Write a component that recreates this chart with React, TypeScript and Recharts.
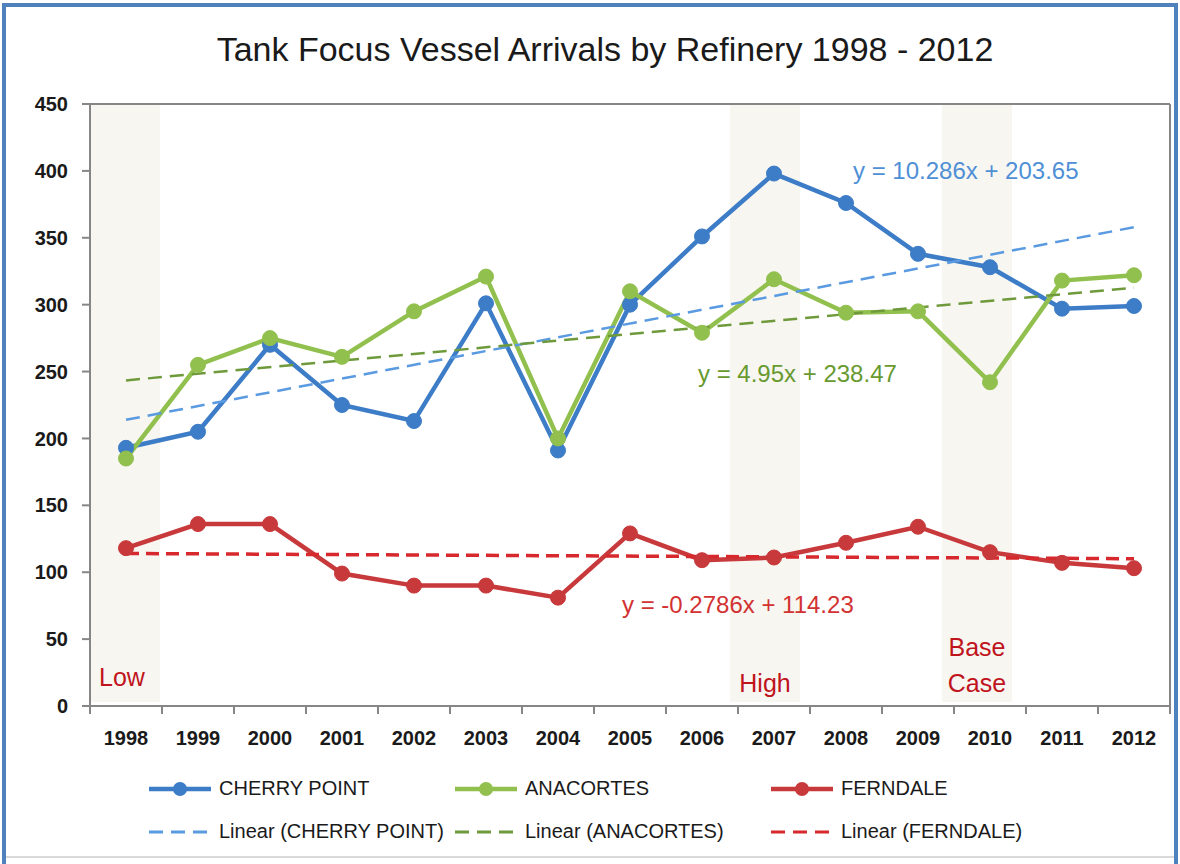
import React from 'react';
import { LineChart, Line, XAxis, YAxis, ReferenceArea, ReferenceLine } from 'recharts';

const years = ['1998', '1999', '2000', '2001', '2002', '2003', '2004', '2005', '2006', '2007', '2008', '2009', '2010', '2011', '2012'];
const cherryPoint = [193, 205, 270, 225, 213, 301, 191, 300, 351, 398, 376, 338, 328, 297, 299];
const anacortes = [185, 255, 275, 261, 295, 321, 200, 310, 279, 319, 294, 295, 242, 318, 322];
const ferndale = [118, 136, 136, 99, 90, 90, 81, 129, 109, 111, 122, 134, 115, 107, 103];

// trend line values at 1998 and 2012
const cherryTrend = [213.9, 357.9];
const anacortesTrend = [243.4, 312.7];
const ferndaleTrend = [114.0, 110.1];

const yTicks = [0, 50, 100, 150, 200, 250, 300, 350, 400, 450];
const scenarioYears = ['1998', '2007', '2010'];
const scenarioLabels = [['Low'], ['High'], ['Base', 'Case']];

const FONT = '"Liberation Sans", Arial, sans-serif';
const BAND = 72;
const AXIS = '#868686';
const PLOT_LEFT = 91;

const C_BLUE = '#3D7CC6';
const C_GREEN = '#92C04E';
const C_RED = '#C8393B';

const last = years.length - 1;
const rows = years.map((year, i) => ({
  year,
  cherry: cherryPoint[i],
  anacortes: anacortes[i],
  ferndale: ferndale[i],
  cherryTrend: i === 0 ? cherryTrend[0] : i === last ? cherryTrend[1] : null,
  anacortesTrend: i === 0 ? anacortesTrend[0] : i === last ? anacortesTrend[1] : null,
  ferndaleTrend: i === 0 ? ferndaleTrend[0] : i === last ? ferndaleTrend[1] : null,
}));

const XTick = (props: any) => {
  const { x, y, payload, index } = props;
  return (
    <g>
      <line x1={x - BAND / 2} y1={y} x2={x - BAND / 2} y2={y + 8} stroke={AXIS} strokeWidth={2} />
      {index === last && <line x1={x + BAND / 2} y1={y} x2={x + BAND / 2} y2={y + 8} stroke={AXIS} strokeWidth={2} />}
      <text x={x} y={y + 39} textAnchor="middle" fontFamily={FONT} fontWeight="bold" fontSize={20} fill="#1a1a1a">
        {payload.value}
      </text>
    </g>
  );
};

// shaded column drawn slightly left of the category centre, as in the original
const bandShape = (shift: number) => (props: any) => {
  const { x, y, width, height } = props;
  const left = Math.max(x + shift, PLOT_LEFT);
  const right = x + shift + width - 2;
  return <rect x={left} y={y} width={right - left} height={height} fill="#F7F6F1" />;
};

const scenarioLabel = (lines: string[], shift: number, lift: number) => (props: any) => {
  const { viewBox } = props;
  const cx = viewBox.x + viewBox.width / 2 + shift;
  const bottom = viewBox.y + viewBox.height;
  return (
    <text textAnchor="middle" fontFamily={FONT} fontSize={25} fill="#C0141C">
      {lines.map((t, i) => (
        <tspan key={t} x={cx} y={bottom - lift - (lines.length - 1 - i) * 36}>{t}</tspan>
      ))}
    </text>
  );
};

const bandShift = [0, -8, -12];
const labelShift = [-4, -9, -13];
const labelLift = [16, 10, 10];

const LegendItem = ({ color, dashed, label, width }: { color: string; dashed?: boolean; label: string; width: number }) => (
  <div style={{ display: 'flex', alignItems: 'center', width }}>
    <svg width={68} height={20} style={{ marginRight: 4 }}>
      {dashed ? (
        <line x1={2} y1={10} x2={64} y2={10} stroke={color} strokeWidth={3} strokeDasharray="14 8" />
      ) : (
        <g>
          <line x1={2} y1={10} x2={64} y2={10} stroke={color} strokeWidth={4.5} />
          <circle cx={33} cy={10} r={7} fill={color} />
        </g>
      )}
    </svg>
    <span style={{ fontFamily: FONT, fontSize: 20, color: '#1a1a1a', whiteSpace: 'nowrap' }}>{label}</span>
  </div>
);

export default function App() {
  return (
    <div style={{ position: 'absolute', top: 0, left: 0, width: 1180, height: 864, background: '#fff', overflow: 'hidden' }}>
      <div style={{ position: 'absolute', top: 3, left: 2, width: 1176, height: 900, border: '4px solid #4F81BD', boxSizing: 'border-box' }} />
      <div style={{ position: 'absolute', top: 856, left: 6, width: 1168, height: 2, background: '#D9D9D9' }} />
      <div style={{ position: 'absolute', top: 30, left: 0, width: 1210, textAlign: 'center', fontFamily: FONT, fontSize: 34, color: '#1a1a1a' }}>
        Tank Focus Vessel Arrivals by Refinery 1998 - 2012
      </div>

      <LineChart width={1180} height={864} data={rows} margin={{ top: 104, right: 10, bottom: 108, left: 30 }} style={{ position: 'absolute', top: 0, left: 0 }}>
        {scenarioYears.map((yr, i) => (
          <ReferenceArea key={yr} x1={yr} x2={yr} y1={3} y2={450} shape={bandShape(bandShift[i])} label={scenarioLabel(scenarioLabels[i], labelShift[i], labelLift[i])} />
        ))}
        <XAxis dataKey="year" scale="band" interval={0} tickSize={0} tickMargin={0} height={50} axisLine={{ stroke: AXIS, strokeWidth: 2 }} tickLine={false} tick={<XTick />} />
        <YAxis domain={[0, 450]} ticks={yTicks} width={60} tickSize={8} tickMargin={14} axisLine={{ stroke: AXIS, strokeWidth: 2 }} tickLine={{ stroke: AXIS, strokeWidth: 2 }} tick={{ fontFamily: FONT, fontWeight: 'bold', fontSize: 20, fill: '#1a1a1a' }} />
        <ReferenceLine y={450} stroke={AXIS} strokeWidth={2} />
        <ReferenceLine x="2012" position="end" stroke={AXIS} strokeWidth={2} />
        <Line dataKey="cherry" stroke={C_BLUE} strokeWidth={4.5} dot={{ r: 7.5, fill: C_BLUE, stroke: C_BLUE, strokeWidth: 1 }} isAnimationActive={false} />
        <Line dataKey="anacortes" stroke={C_GREEN} strokeWidth={4.5} dot={{ r: 7.5, fill: C_GREEN, stroke: C_GREEN, strokeWidth: 1 }} isAnimationActive={false} />
        <Line dataKey="ferndale" stroke={C_RED} strokeWidth={4.5} dot={{ r: 7.5, fill: C_RED, stroke: C_RED, strokeWidth: 1 }} isAnimationActive={false} />
        <Line dataKey="cherryTrend" connectNulls stroke="#5A9AE0" strokeWidth={2.5} strokeDasharray="14 8" dot={false} isAnimationActive={false} />
        <Line dataKey="anacortesTrend" connectNulls stroke="#6F9A3B" strokeWidth={2.5} strokeDasharray="14 8" dot={false} isAnimationActive={false} />
        <Line dataKey="ferndaleTrend" connectNulls stroke="#D6282D" strokeWidth={3.5} strokeDasharray="13 7" dot={false} isAnimationActive={false} />
      </LineChart>

      <div style={{ position: 'absolute', left: 853, top: 157, fontFamily: FONT, fontSize: 24, color: '#4F8FD6', whiteSpace: 'nowrap' }}>y = 10.286x + 203.65</div>
      <div style={{ position: 'absolute', left: 698, top: 360, fontFamily: FONT, fontSize: 24, color: '#689A30', whiteSpace: 'nowrap' }}>y = 4.95x + 238.47</div>
      <div style={{ position: 'absolute', left: 622, top: 591, fontFamily: FONT, fontSize: 24, color: '#D23232', whiteSpace: 'nowrap' }}>y = -0.2786x + 114.23</div>

      <div style={{ position: 'absolute', left: 147, top: 777 }}>
        <div style={{ display: 'flex' }}>
          <LegendItem color={C_BLUE} label="CHERRY POINT" width={306} />
          <LegendItem color={C_GREEN} label="ANACORTES" width={316} />
          <LegendItem color={C_RED} label="FERNDALE" width={300} />
        </div>
        <div style={{ display: 'flex', marginTop: 20 }}>
          <LegendItem color="#5A9AE0" dashed label="Linear (CHERRY POINT)" width={306} />
          <LegendItem color="#6F9A3B" dashed label="Linear (ANACORTES)" width={316} />
          <LegendItem color="#D6282D" dashed label="Linear (FERNDALE)" width={300} />
        </div>
      </div>
    </div>
  );
}
